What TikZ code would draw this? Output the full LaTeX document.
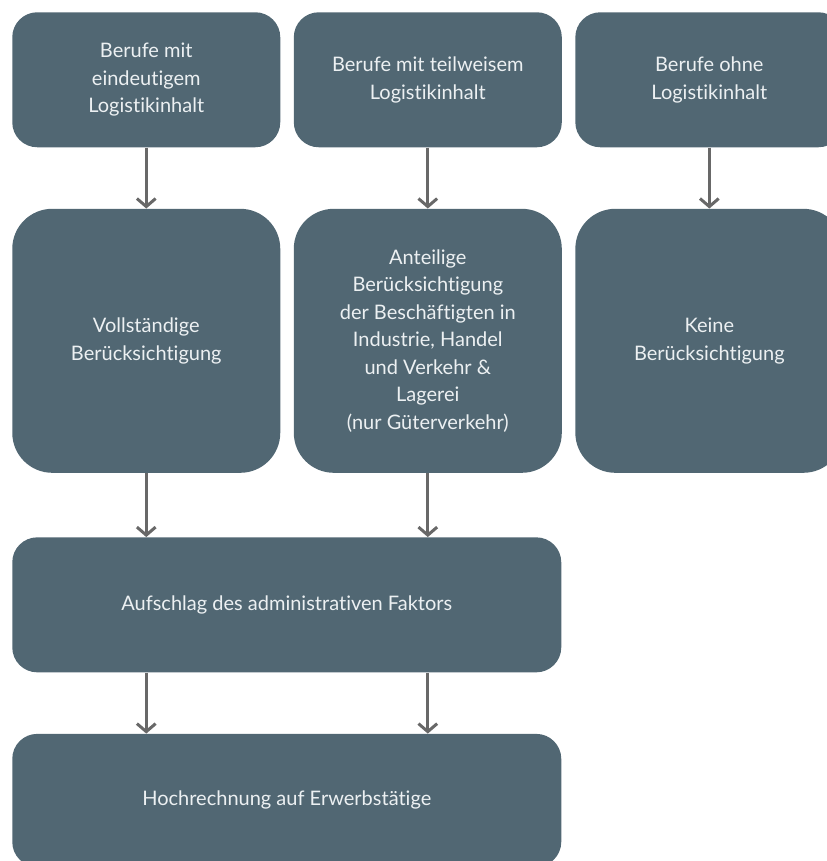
\documentclass[tikz,border=0pt]{standalone}
\usepackage{fontspec}
\setmainfont{Lato}[Ligatures=NoCommon]
\usetikzlibrary{
  arrows.meta, % for the open barb tips
  positioning, % for relative placement of the boxes
}
\definecolor{boxfill}{RGB}{81,103,115}
\definecolor{boxtext}{RGB}{236,240,242}
\definecolor{conngray}{RGB}{104,104,104}
\tikzset{
  box/.style={ % style for each box
    rectangle,rounded corners=18.75pt, % filled box with round corners
    fill=boxfill,text=boxtext,
    font=\fontsize{15}{20.6}\selectfont,
    align=center, % lines are broken by hand
    inner sep=0pt,
    minimum width=201pt, % same width for every column
    minimum height=101.25pt,
    node distance=45.75pt and 9.75pt, % spacing between boxes (y and x)
  },
  tall/.style={ % style for the middle row
    box,
    minimum height=198pt,
    rounded corners=30pt,
  },
  wide/.style={ % boxes over two columns
    minimum width=411.75pt,
  },
  conn/.style={ % style for the connections
    -{Straight Barb[length=6pt,width=14pt]},
    line width=2.25pt,
    draw=conngray,
  },
}
\begin{document}
\begin{tikzpicture}
	\useasboundingbox (0,0) rectangle (620.25pt,-645.75pt);

	\node[box,anchor=north west] (eindeutig) at (9pt,-9pt) {Berufe mit\\eindeutigem\\Logistikinhalt};
	\node[box,right=of eindeutig] (teilweise) {Berufe mit teilweisem\\Logistikinhalt};
	\node[box,right=of teilweise] (ohne) {Berufe ohne\\Logistikinhalt};

	\node[tall,below=of eindeutig] (vollst) {Vollständige\\Berücksichtigung};
	\node[tall,below=of teilweise] (anteilig) {Anteilige\\Berücksichtigung\\der Beschäftigten in\\Industrie, Handel\\und Verkehr \&\\Lagerei\\(nur Güterverkehr)};
	\node[tall,below=of ohne] (keine) {Keine\\Berücksichtigung};

	\node[box,wide,below=48pt of vollst.south west,anchor=north west] (aufschlag) {Aufschlag des administrativen Faktors};
	\node[box,wide,below=of aufschlag,minimum height=99.75pt] (hoch) {Hochrechnung auf Erwerbstätige};

	\draw[conn] (eindeutig) -- (vollst);
	\draw[conn] (teilweise) -- (anteilig);
	\draw[conn] (ohne) -- (keine);
	\draw[conn] (vollst) -- (vollst |- aufschlag.north);
	\draw[conn] (anteilig) -- (anteilig |- aufschlag.north);
	\draw[conn] (aufschlag.south -| vollst) -- (hoch.north -| vollst);
	\draw[conn] (aufschlag.south -| anteilig) -- (hoch.north -| anteilig);

\end{tikzpicture}
\end{document}
